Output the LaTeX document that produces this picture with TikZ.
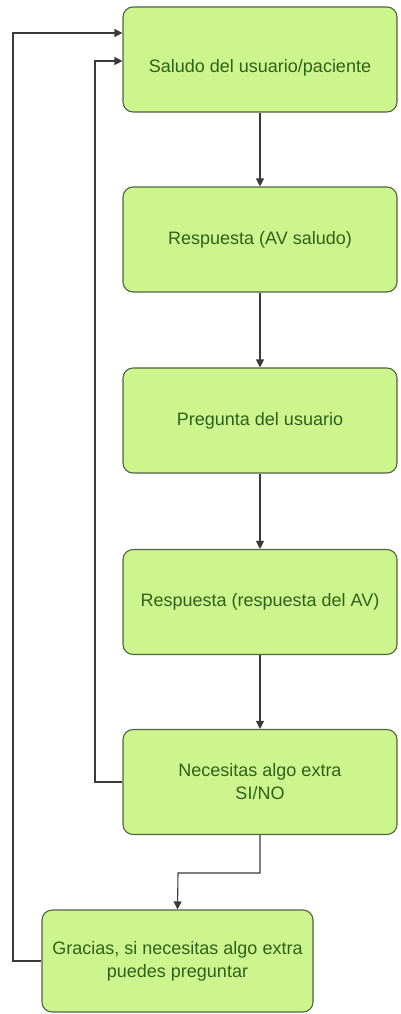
\documentclass[tikz,border=0pt]{standalone}
\usepackage{fontspec}
\setmainfont{Liberation Sans}
\usetikzlibrary{arrows.meta}
\definecolor{boxfill}{HTML}{CCF58E}
\definecolor{boxdraw}{HTML}{52633D}
\definecolor{boxtext}{HTML}{2F6218}
\definecolor{linecol}{HTML}{3A3A3A}
\tikzset{
  stepbox/.style={draw=boxdraw, line width=1.1pt, fill=boxfill, rounded corners=10pt,
    minimum width=274pt, minimum height=105pt, text=boxtext, align=center,
    font=\fontsize{18}{23}\selectfont, inner sep=0pt},
  conn/.style={draw=linecol, line width=1.1pt, -{Triangle[length=8pt,width=8pt]}}
}
\begin{document}
\begin{tikzpicture}[x=1pt,y=-1pt]
\useasboundingbox (0,0) rectangle (401,1014);
\node[stepbox] (s1) at (260,59.5) {};
\node[text=boxtext, font=\fontsize{18}{23}\selectfont] (t1) at (260,68) {Saludo del usuario/paciente};
\node[stepbox] (s2) at (260,239.5) {Respuesta (AV saludo)};
\node[stepbox] (s3) at (260,420.5) {Pregunta del usuario};
\node[stepbox] (s4) at (260,602) {Respuesta (respuesta del AV)};
\node[stepbox] (s5) at (260,782) {Necesitas algo extra\\SI/NO};
\node[stepbox, minimum width=271pt, minimum height=102pt] (s6) at (177.5,961) {Gracias, si necesitas algo extra\\puedes preguntar};
\coordinate (a1) at (13,33);
\coordinate (a2) at (95,61);
\coordinate (b1) at (178,873);
\draw[conn] (s1) -- (s2);
\draw[conn] (s2) -- (s3);
\draw[conn] (s3) -- (s4);
\draw[conn] (s4) -- (s5);
\draw[conn] (s5.south) |- (b1) -- (s6.north);
\draw[conn] (s5.west) -| (a2) -- (a2 -| s1.west);
\draw[conn] (s6.west) -| (a1) -- (a1 -| s1.west);
\end{tikzpicture}
\end{document}
